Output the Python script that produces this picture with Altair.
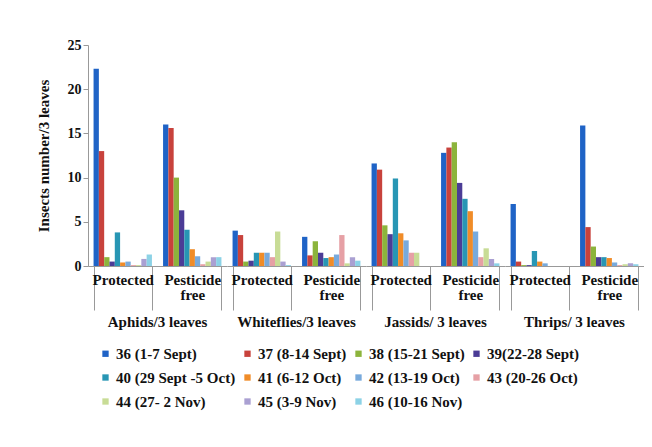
import altair as alt
import pandas as pd

pests = ["Aphids/3 leaves", "Whiteflies/3 leaves", "Jassids/ 3 leaves", "Thrips/ 3 leaves"]
treatments = ["Protected", "Pesticide free"]
weeks = ["36 (1-7 Sept)", "37 (8-14 Sept)", "38 (15-21 Sept)", "39(22-28  Sept)",
         "40 (29 Sept -5 Oct)", "41 (6-12 Oct)", "42 (13-19 Oct)", "43 (20-26 Oct)",
         "44 (27- 2 Nov)", "45 (3-9 Nov)", "46 (10-16 Nov)"]
colors = ["#1F63C6", "#C8423C", "#8CB43C", "#4B3C96", "#2896B4", "#F08C28",
          "#78AADC", "#E6A0A5", "#C8DC96", "#AAA0D2", "#8CD2E6"]

aphids_protected = [22.3, 13.0, 1.0, 0.5, 3.8, 0.4, 0.5, 0.1, 0.1, 0.8, 1.3]
aphids_free = [16.0, 15.6, 10.0, 6.3, 4.1, 1.9, 1.1, 0.2, 0.5, 1.0, 1.0]
whiteflies_protected = [4.0, 3.5, 0.5, 0.6, 1.5, 1.5, 1.5, 1.0, 3.9, 0.5, 0.1]
whiteflies_free = [3.3, 1.2, 2.8, 1.5, 0.9, 1.0, 1.3, 3.5, 0.3, 1.0, 0.6]
jassids_protected = [11.6, 10.9, 4.6, 3.6, 9.9, 3.7, 2.9, 1.5, 1.5, 0.0, 0.0]
jassids_free = [12.8, 13.4, 14.0, 9.4, 7.6, 6.2, 3.9, 1.0, 2.0, 0.8, 0.3]
thrips_protected = [7.0, 0.5, 0.1, 0.1, 1.7, 0.5, 0.3, 0.0, 0.0, 0.0, 0.0]
thrips_free = [15.9, 4.4, 2.2, 1.0, 1.0, 0.9, 0.4, 0.1, 0.2, 0.3, 0.2]

series = {
    (pests[0], treatments[0]): aphids_protected,
    (pests[0], treatments[1]): aphids_free,
    (pests[1], treatments[0]): whiteflies_protected,
    (pests[1], treatments[1]): whiteflies_free,
    (pests[2], treatments[0]): jassids_protected,
    (pests[2], treatments[1]): jassids_free,
    (pests[3], treatments[0]): thrips_protected,
    (pests[3], treatments[1]): thrips_free,
}

rows = []
for (p, t), vals in series.items():
    for w, v in zip(weeks, vals):
        rows.append({"pest": p, "treatment": t, "week": w, "value": v})
df = pd.DataFrame(rows)

FONT = "Liberation Serif"

chart = alt.Chart(df).mark_bar().encode(
    x=alt.X("treatment:N", sort=treatments, title=None,
            scale=alt.Scale(paddingInner=0.16, paddingOuter=0.08),
            axis=alt.Axis(labelAngle=0, labelExpr="split(datum.label, ' ')",
                          tickBand="extent", tickSize=44, tickColor="#999999",
                          domainColor="#999999", labelPadding=-38,
                          labelFontSize=15, labelFontWeight="bold",
                          labelFont=FONT, labelColor="#111111",
                          labelLineHeight=15, labelBaseline="top")),
    xOffset=alt.XOffset("week:N", sort=weeks,
                        scale=alt.Scale(paddingInner=0, paddingOuter=0)),
    y=alt.Y("value:Q", title="Insects number/3 leaves",
            scale=alt.Scale(domain=[0, 25]),
            axis=alt.Axis(values=[0, 5, 10, 15, 20, 25], grid=False,
                          domainColor="#999999", tickColor="#999999",
                          labelFontSize=14, labelFontWeight="bold",
                          labelFont=FONT, labelColor="#111111",
                          titleFont=FONT, titleFontSize=15,
                          titleFontWeight="bold", titleColor="#111111",
                          titlePadding=16)),
    color=alt.Color("week:N", sort=weeks,
                    scale=alt.Scale(domain=weeks, range=colors),
                    legend=alt.Legend(title=None, orient="bottom", columns=4,
                                      symbolType="square", symbolSize=40,
                                      labelFont=FONT, labelFontSize=15,
                                      labelFontWeight="bold", labelColor="#111111",
                                      rowPadding=8, columnPadding=4,
                                      labelOffset=3,
                                      offset=6, padding=10,
                                      symbolStrokeWidth=0)),
).properties(width=139, height=221).facet(
    column=alt.Column("pest:N", sort=pests, title=None,
                      header=alt.Header(labelOrient="bottom", labelFont=FONT,
                                        labelFontSize=15, labelFontWeight="bold",
                                        labelColor="#111111", labelPadding=4)),
    spacing=0,
).properties(
    padding={"left": 28, "top": 30, "right": 0, "bottom": 5}
).configure_view(stroke=None)

chart.save("out.html", embed_options={"renderer": "svg", "actions": False})
